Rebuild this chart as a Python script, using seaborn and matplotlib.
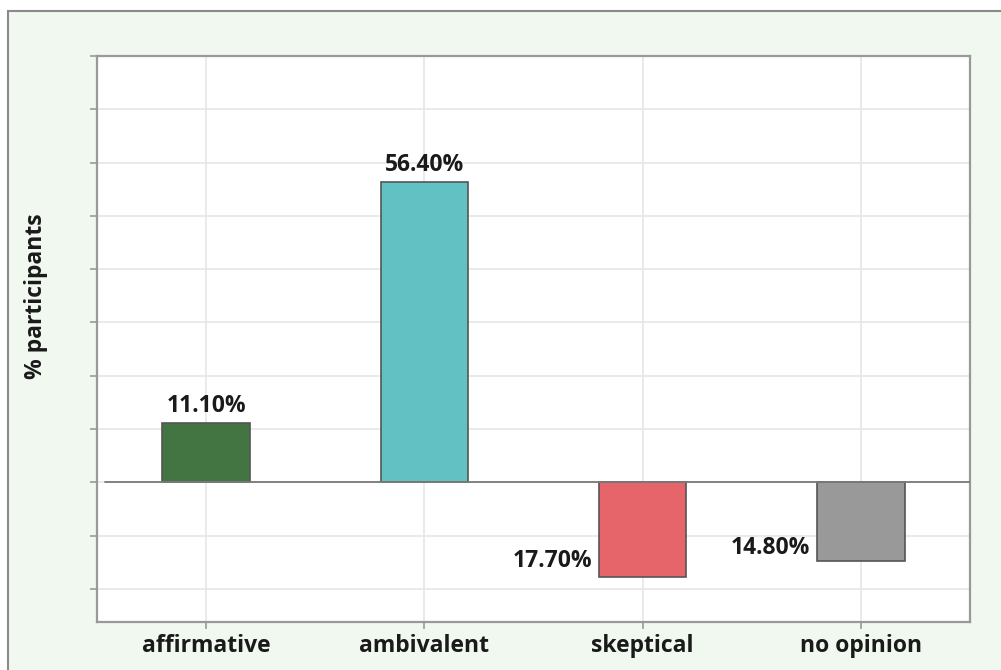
import matplotlib
matplotlib.use("Agg")
import matplotlib.pyplot as plt
import seaborn as sns
import pandas as pd
from matplotlib.patches import Rectangle

categories = ["affirmative", "ambivalent", "skeptical", "no opinion"]
values = [11.1, 56.4, -17.7, -14.8]
labels = ["11.10%", "56.40%", "17.70%", "14.80%"]
colors = ["#427541", "#62c1c2", "#e6656a", "#999999"]

sns.set_theme(style="white")
plt.rcParams['font.family'] = ['Open Sans', 'DejaVu Sans']

df = pd.DataFrame({"category": categories, "value": values})

fig = plt.figure(figsize=(10.01, 6.70), dpi=100, facecolor="white")
bg = Rectangle((8/1001, -0.1), 1.2, 1 - 11/670 + 0.1, transform=fig.transFigure,
               facecolor="#f1f8f0", edgecolor="#8a8a8a", linewidth=1.5, zorder=-10)
fig.patches.append(bg)

ax = fig.add_axes([97/1001, 48/670, (970-97)/1001, (622-56)/670])
ax.set_facecolor("white")

sns.barplot(data=df, x="category", y="value", hue="category", palette=colors,
            order=categories, hue_order=categories, width=0.4, dodge=False,
            saturation=1, edgecolor="#555555", linewidth=1.2, legend=False, ax=ax, zorder=3)

ax.set_ylim(-26.2, 80)
ax.set_xlim(-0.5, 3.5)
ax.set_yticks(range(-20, 81, 10))
ax.set_yticklabels([])
ax.grid(True, color="#e6e6e6", linewidth=1.2, zorder=0)
ax.set_axisbelow(True)
ax.axhline(0, xmin=0.009, xmax=1, color="#7a7a7a", linewidth=1.3, zorder=4)

for s in ax.spines.values():
    s.set_color("#999999")
    s.set_linewidth(1.6)

ax.tick_params(axis="both", which="both", length=5, color="#999999", width=1.2, direction="out",
               left=True, bottom=True)
ax.tick_params(axis="x", labelsize=16.5, pad=4)
for t in ax.get_xticklabels():
    t.set_fontweight("bold")
    t.set_color("#1a1a1a")

ax.set_xlabel("")
ax.set_ylabel("% participants", fontsize=16.5, fontweight="bold", color="#1a1a1a")
ax.yaxis.set_label_coords(-0.056, 0.575)

for i, (v, lab) in enumerate(zip(values, labels)):
    if v >= 0:
        ax.text(i, v + 0.9, lab, ha="center", va="bottom", fontsize=16.5,
                fontweight="bold", color="#1a1a1a", zorder=5)
    else:
        ax.text(i - 0.232, v * 0.83, lab, ha="right", va="center", fontsize=16.5,
                fontweight="bold", color="#1a1a1a", zorder=5)

fig.savefig("out.png", dpi=100, facecolor=fig.get_facecolor())
